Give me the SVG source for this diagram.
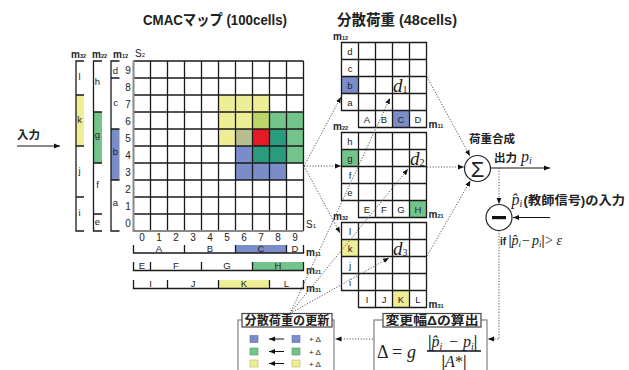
<svg xmlns="http://www.w3.org/2000/svg" width="629" height="370" viewBox="0 0 629 370">
<defs>
<marker id="ah" viewBox="0 0 6 6" refX="6" refY="3" markerWidth="6" markerHeight="6" markerUnits="userSpaceOnUse" orient="auto"><path d="M0,0.6 L6,3 L0,5.4z" fill="#111"/></marker>
<style>
.ln{stroke:#1a1a1a;stroke-width:1.3;fill:none}
.ax{stroke:#8a8a8a;stroke-width:2;fill:none}
.dt{stroke:#555;stroke-width:1;stroke-dasharray:1.2 1.6;fill:none;marker-end:url(#ah)}
.so{stroke:#111;stroke-width:1;fill:none;marker-end:url(#ah)}
.bx{stroke:#8a8a8a;stroke-width:1.3;fill:none}
.tag{stroke:#444;stroke-width:1.2;fill:#fff}
text{font-family:'Liberation Sans','Noto Sans CJK JP',sans-serif;fill:#222}
.s{font-size:10px}
.l{font-size:9.5px}
.c{text-anchor:middle}
.j{font-weight:bold}
.m{font-size:10px;font-weight:bold}
.m tspan{font-size:5.5px}
.mt{font-family:'Liberation Serif',serif}
.it{font-style:italic}
.y{fill:#eeee96}.gr{fill:#72c48a}.b{fill:#7b8dc9}.r{fill:#e21b24}.te{fill:#2b9b7f}.ol{fill:#b8bf8e}.yg{fill:#bcd568}
</style>
</defs>
<rect width="629" height="370" fill="#fff"/>

<text class="j" x="143" y="25" font-size="15" textLength="144" lengthAdjust="spacingAndGlyphs">CMACマップ (100cells)</text>
<text class="j" x="337" y="25" font-size="15" textLength="120" lengthAdjust="spacingAndGlyphs">分散荷重 (48cells)</text>

<g id="input">
<text class="j" x="17" y="139" font-size="11.5">入力</text>
</g>

<g id="cmac">
<rect class="y" x="218.5" y="95" width="17" height="17"/><rect class="y" x="235.5" y="95" width="17" height="17"/><rect class="y" x="252.5" y="95" width="17" height="17"/>
<rect class="y" x="218.5" y="112" width="17" height="17"/><rect class="y" x="235.5" y="112" width="17" height="17"/><rect class="yg" x="252.5" y="112" width="17" height="17"/><rect class="gr" x="269.5" y="112" width="17" height="17"/><rect class="gr" x="286.5" y="112" width="17" height="17"/>
<rect class="y" x="218.5" y="129" width="17" height="17"/><rect class="ol" x="235.5" y="129" width="17" height="17"/><rect class="r" x="252.5" y="129" width="17" height="17"/><rect class="te" x="269.5" y="129" width="17" height="17"/><rect class="gr" x="286.5" y="129" width="17" height="17"/>
<rect class="b" x="235.5" y="146" width="17" height="17"/><rect class="te" x="252.5" y="146" width="17" height="17"/><rect class="te" x="269.5" y="146" width="17" height="17"/><rect class="gr" x="286.5" y="146" width="17" height="17"/>
<rect class="b" x="235.5" y="163" width="17" height="17"/><rect class="b" x="252.5" y="163" width="17" height="17"/><rect class="b" x="269.5" y="163" width="17" height="17"/>
<path class="ln" d="M150.5 61V231M167.5 61V231M184.5 61V231M201.5 61V231M218.5 61V231M235.5 61V231M252.5 61V231M269.5 61V231M286.5 61V231M303.5 61V231M133.5 61H303.5M133.5 78H303.5M133.5 95H303.5M133.5 112H303.5M133.5 129H303.5M133.5 146H303.5M133.5 163H303.5M133.5 180H303.5M133.5 197H303.5M133.5 214H303.5"/>
<path class="ax" d="M133.5 61V231H303.5"/>
<g class="s c">
<text x="128" y="73.5">9</text><text x="128" y="90.5">8</text><text x="128" y="107.5">7</text><text x="128" y="124.5">6</text><text x="128" y="141.5">5</text><text x="128" y="158.5">4</text><text x="128" y="175.5">3</text><text x="128" y="192.5">2</text><text x="128" y="209.5">1</text><text x="128" y="226.5">0</text>
<text x="142" y="241">0</text><text x="159" y="241">1</text><text x="176" y="241">2</text><text x="193" y="241">3</text><text x="210" y="241">4</text><text x="227" y="241">5</text><text x="244" y="241">6</text><text x="261" y="241">7</text><text x="278" y="241">8</text><text x="295" y="241">9</text>
</g>
<text class="s" x="135" y="57">S<tspan font-size="6">2</tspan></text>
<text class="s" x="306" y="228">S<tspan font-size="6">1</tspan></text>
</g>

<g id="m-left">
<rect class="y" x="76" y="95" width="8" height="51"/>
<rect class="gr" x="93.5" y="112" width="8.5" height="51"/>
<rect class="b" x="111" y="129" width="8.5" height="51"/>
<path class="ln" d="M84 61H76V231H84M76 95H84M76 146H84M76 197H84"/>
<path class="ln" d="M102 61H93.5V231H102M93.5 112H102M93.5 163H102M93.5 214H102"/>
<path class="ln" d="M119.5 61H111V231H119.5M111 78H119.5M111 129H119.5M111 180H119.5"/>
<text class="m" x="71" y="57.5">m<tspan>32</tspan></text>
<text class="m" x="92" y="57.5">m<tspan>22</tspan></text>
<text class="m" x="113" y="57.5">m<tspan>12</tspan></text>
<g class="l c">
<text x="79.5" y="80">l</text><text x="79.5" y="122.5">k</text><text x="79.5" y="173.5">j</text><text x="79.5" y="216">i</text>
<text x="97.5" y="85">h</text><text x="97.5" y="137.5">g</text><text x="97.5" y="187.5">f</text><text x="97.5" y="224.5">e</text>
<text x="115.5" y="73.5">d</text><text x="115.5" y="105.5">c</text><text x="115.5" y="155">b</text><text x="115.5" y="206">a</text>
</g>
</g>

<g id="m-bottom">
<rect class="b" x="235.5" y="245" width="51" height="8"/>
<rect class="gr" x="252.5" y="262" width="51" height="8.5"/>
<rect class="y" x="218.5" y="280" width="51" height="8.5"/>
<path class="ln" d="M133.5 245V253H303.5V245M184.5 245V253M235.5 245V253M286.5 245V253"/>
<path class="ln" d="M133.5 262V270.5H303.5V262M150.5 262V270.5M201.5 262V270.5M252.5 262V270.5"/>
<path class="ln" d="M133.5 280V288.5H303.5V280M167.5 280V288.5M218.5 280V288.5M269.5 280V288.5"/>
<g class="l c">
<text x="159" y="251.5">A</text><text x="210" y="251.5">B</text><text x="261" y="251.5">C</text><text x="295" y="251.5">D</text>
<text x="142" y="269">E</text><text x="176" y="269">F</text><text x="227" y="269">G</text><text x="278" y="269">H</text>
<text x="150.5" y="287">I</text><text x="193" y="287">J</text><text x="244" y="287">K</text><text x="286.5" y="287">L</text>
</g>
<text class="m" x="306" y="256">m<tspan>11</tspan></text>
<text class="m" x="306" y="273.5">m<tspan>21</tspan></text>
<text class="m" x="306" y="291.5">m<tspan>31</tspan></text>
</g>

<g id="w1" transform="translate(0,42.5)">
<rect class="b" x="341.5" y="34" width="17" height="17"/>
<rect class="b" x="392.5" y="68" width="17" height="17"/>
<path class="ln" d="M341.5 0H426.5V85H358.5V68H341.5ZM341.5 17H426.5M341.5 34H426.5M341.5 51H426.5M341.5 68H426.5M358.5 0V85M375.5 0V85M392.5 0V85M409.5 0V85"/>
<g class="l c">
<text x="350" y="12">d</text><text x="350" y="29">c</text><text x="350" y="46">b</text><text x="350" y="63">a</text>
<text x="367" y="80.5">A</text><text x="384" y="80.5">B</text><text x="401" y="80.5">C</text><text x="418" y="80.5">D</text>
</g>
<text class="m" x="333" y="-3">m<tspan>12</tspan></text>
<text class="m" x="428.5" y="85">m<tspan>11</tspan></text>
<text class="mt it" x="393" y="49" font-size="19" fill="#223">d<tspan font-size="10" font-style="normal" dy="1.5">1</tspan></text>
</g>

<g id="w2" transform="translate(0,132.5)">
<rect class="gr" x="341.5" y="17" width="17" height="17"/>
<rect class="gr" x="409.5" y="68" width="17" height="17"/>
<path class="ln" d="M341.5 0H426.5V85H358.5V68H341.5ZM341.5 17H426.5M341.5 34H426.5M341.5 51H426.5M341.5 68H426.5M358.5 0V85M375.5 0V85M392.5 0V85M409.5 0V85"/>
<g class="l c">
<text x="350" y="12">h</text><text x="350" y="29">g</text><text x="350" y="46">f</text><text x="350" y="63">e</text>
<text x="367" y="80.5">E</text><text x="384" y="80.5">F</text><text x="401" y="80.5">G</text><text x="418" y="80.5">H</text>
</g>
<text class="m" x="333" y="-3">m<tspan>22</tspan></text>
<text class="m" x="428.5" y="85">m<tspan>21</tspan></text>
<text class="mt it" x="410" y="32" font-size="19" fill="#223">d<tspan font-size="10" font-style="normal" dy="1.5">2</tspan></text>
</g>

<g id="w3" transform="translate(0,222.5)">
<rect class="y" x="341.5" y="17" width="17" height="17"/>
<rect class="y" x="392.5" y="68" width="17" height="17"/>
<path class="ln" d="M341.5 0H426.5V85H358.5V68H341.5ZM341.5 17H426.5M341.5 34H426.5M341.5 51H426.5M341.5 68H426.5M358.5 0V85M375.5 0V85M392.5 0V85M409.5 0V85"/>
<g class="l c">
<text x="350" y="12">l</text><text x="350" y="29">k</text><text x="350" y="46">j</text><text x="350" y="63">i</text>
<text x="367" y="80.5">I</text><text x="384" y="80.5">J</text><text x="401" y="80.5">K</text><text x="418" y="80.5">L</text>
</g>
<text class="m" x="333" y="-3">m<tspan>32</tspan></text>
<text class="m" x="428.5" y="85">m<tspan>31</tspan></text>
<text class="mt it" x="393" y="32" font-size="19" fill="#223">d<tspan font-size="10" font-style="normal" dy="1.5">3</tspan></text>
</g>

<g id="sum">
<circle cx="477.5" cy="168.5" r="13" fill="#fff" stroke="#222" stroke-width="1.2"/>
<text x="477.5" y="176.5" font-size="22" class="c">Σ</text>
<text class="j" x="469" y="143" font-size="11.5">荷重合成</text>
<text class="j" x="494" y="162" font-size="11.5">出力</text>
<text class="mt it" x="521" y="162" font-size="16">p<tspan font-size="10" dy="2">i</tspan></text>
</g>

<g id="minus">
<circle cx="499" cy="217.5" r="13" fill="#fff" stroke="#222" stroke-width="1.2"/>
<rect x="492" y="216" width="14" height="3.2" fill="#111"/>
<text class="mt it" x="511.5" y="205" font-size="16">p̂<tspan font-size="10" dy="2">i</tspan></text>
<text class="j" x="523.5" y="205" font-size="12" textLength="101.5" lengthAdjust="spacingAndGlyphs">(教師信号)の入力</text>
<text class="j" x="500" y="245" font-size="10">if</text>
<text class="mt" y="245" font-size="14"><tspan x="508.5" font-weight="bold">|</tspan><tspan class="it">p̂</tspan><tspan class="it" font-size="9" dy="2">i</tspan><tspan dy="-2" x="522">−</tspan><tspan class="it" x="532">p</tspan><tspan class="it" font-size="9" dy="2">i</tspan><tspan dy="-2" font-weight="bold">|</tspan><tspan x="545">&gt;</tspan><tspan class="it" x="556.5">ε</tspan></text>
</g>

<g id="update">
<rect class="bx" x="238" y="320" width="96" height="60"/>
<rect class="tag" x="242" y="313.5" width="90" height="13.5"/>
<text class="j" x="244.5" y="324.8" font-size="12" textLength="85" lengthAdjust="spacingAndGlyphs">分散荷重の更新</text>
<rect class="b" x="250" y="335.5" width="8" height="7" stroke="#5a6ca8" stroke-width="0.6"/>
<rect class="b" x="292" y="335.5" width="8" height="7" stroke="#5a6ca8" stroke-width="0.6"/>
<rect class="gr" x="250" y="348" width="8" height="7" stroke="#4f9f6a" stroke-width="0.6"/>
<rect class="gr" x="292" y="348" width="8" height="7" stroke="#4f9f6a" stroke-width="0.6"/>
<rect class="y" x="250" y="360" width="8" height="7" stroke="#b8b860" stroke-width="0.6"/>
<rect class="y" x="292" y="360" width="8" height="7" stroke="#b8b860" stroke-width="0.6"/>
<path class="so" d="M284 339H269"/>
<path class="so" d="M284 351.5H269"/>
<path class="so" d="M284 363.5H269"/>
<text x="309" y="342" font-size="8">+ Δ</text>
<text x="309" y="354.5" font-size="8">+ Δ</text>
<text x="309" y="366.5" font-size="8">+ Δ</text>
</g>

<g id="delta">
<rect class="bx" x="374" y="320" width="113" height="60"/>
<rect class="tag" x="383" y="313.5" width="98" height="13.5"/>
<text class="j" x="385.5" y="324.8" font-size="12.5" textLength="93" lengthAdjust="spacingAndGlyphs">変更幅Δの算出</text>
<text class="mt" x="377" y="358" font-size="18">Δ</text>
<text class="mt" x="392" y="358" font-size="18">=</text>
<text class="mt it" x="407" y="358" font-size="18">g</text>
<text class="mt" y="347" font-size="16"><tspan x="428" font-weight="bold">|</tspan><tspan class="it">p̂</tspan><tspan class="it" font-size="10" dy="3">i</tspan><tspan dy="-3" x="449">−</tspan><tspan class="it" x="463">p</tspan><tspan class="it" font-size="10" dy="3">i</tspan><tspan dy="-3" font-weight="bold">|</tspan></text>
<line x1="427" y1="351" x2="481" y2="351" stroke="#111" stroke-width="1.4"/>
<text class="mt c" x="454" y="367" font-size="16"><tspan font-weight="bold">|</tspan><tspan class="it">A</tspan>*<tspan font-weight="bold">|</tspan></text>
</g>

<g id="connectors">
<path class="so" d="M17 146H60"/>
<path class="dt" d="M304 166L341 97"/>
<path class="dt" d="M304 166H341"/>
<path class="dt" d="M304 166L340 233"/>
<path class="dt" d="M427 77L470 156"/>
<path class="dt" d="M427 167H464"/>
<path class="dt" d="M427 256L470.5 180.5"/>
<path class="so" d="M490.5 168H550"/>
<path class="dt" d="M499 168V204"/>
<path class="so" d="M550 217.5H513"/>
<path class="dt" d="M499 230.5V339H488"/>
<path class="dt" d="M373 339H335.5"/>
<path class="dt" d="M290 313.5L390 98"/>
<path class="dt" d="M290 313.5L408 169"/>
<path class="dt" d="M290 313.5L389 258"/>
</g>
</svg>
